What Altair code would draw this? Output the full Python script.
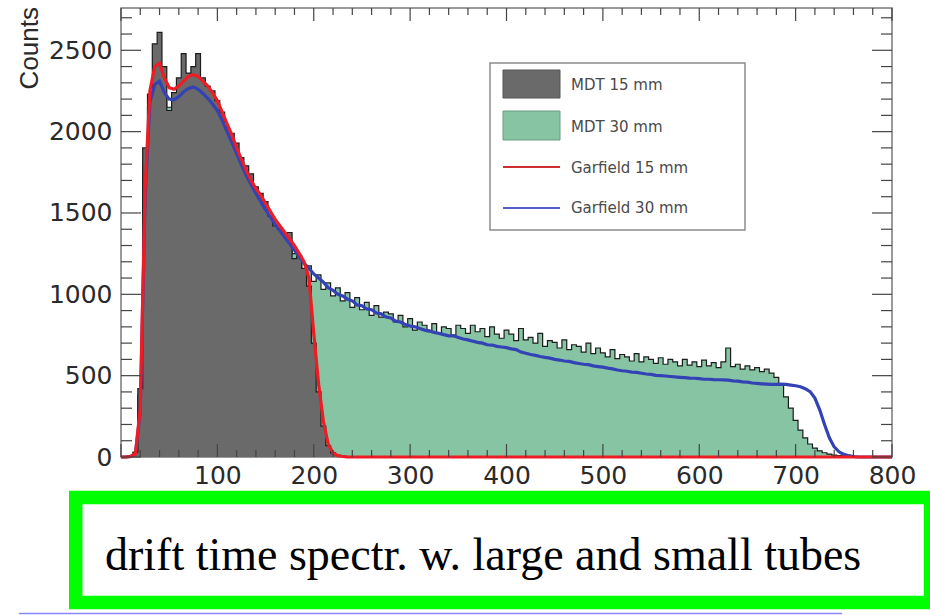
import altair as alt
import pandas as pd

# ---------------- data ----------------
t_mdt15 = list(range(0, 255, 5))
mdt15 = [0, 0, 5, 30, 420, 1900, 2230, 2540, 2610, 2400, 2130, 2240, 2330, 2480, 2360,
         2400, 2480, 2330, 2280, 2250, 2190, 2120, 2030, 1990, 1930, 1840, 1790, 1740,
         1660, 1620, 1570, 1480, 1420, 1400, 1370, 1380, 1220, 1240, 1160, 1050, 700,
         400, 190, 70, 25, 10, 6, 3, 1, 0, 0]

t_mdt30 = list(range(0, 775, 5))
mdt30 = [0, 0, 4, 25, 380, 1800, 2150, 2250, 2300, 2200, 2150, 2150, 2180, 2200, 2230,
         2240, 2230, 2200, 2170, 2140, 2100, 2040, 1970, 1900, 1830, 1760, 1700, 1650,
         1590, 1540, 1490, 1440, 1400, 1360, 1320, 1280, 1250,
         1200, 1150, 1175, 1080, 1120, 1030, 1070, 990, 1040, 960, 1010, 920, 980, 905,
         950, 870, 930, 860, 890, 880, 830, 870, 800, 850, 780, 830, 810, 770, 820, 760,
         800, 790, 750,
         810, 790, 760, 810, 770, 790, 740, 800, 755, 730, 780, 755, 715, 790, 720, 735,
         700, 760, 680, 715, 705, 670, 720, 660, 690, 680, 645, 700, 635, 670,
         640, 615, 660, 605, 630, 615, 590, 635, 585, 615, 600, 575, 610, 570, 600, 585,
         560, 600, 565, 585, 555, 595, 560, 580, 550, 585, 670, 555, 570, 540, 560, 535,
         550, 525, 540, 515, 490,
         440, 370, 300, 225, 165, 118, 80, 55, 38, 26, 18, 12, 8, 5, 3, 1, 0, 0]

t_g15 = list(range(0, 255, 5)) + [800]
g15 = [0, 0, 3, 20, 300, 1650, 2250, 2400, 2420, 2330, 2270, 2260, 2280, 2310, 2340,
       2350, 2340, 2310, 2280, 2240, 2190, 2120, 2050, 1980, 1900, 1830, 1760, 1700,
       1650, 1610, 1560, 1510, 1460, 1420, 1380, 1340, 1300, 1250, 1200, 1100, 760,
       450, 220, 80, 25, 8, 3, 1, 0, 0, 0, 0]

t_g30 = list(range(0, 770, 5)) + [800]
g30 = [0, 0, 3, 20, 280, 1600, 2180, 2290, 2310, 2240, 2200, 2195, 2215, 2245, 2265,
       2275, 2260, 2235, 2205, 2170, 2130, 2070, 2000, 1935, 1865, 1795, 1730, 1675,
       1620, 1570, 1520, 1475, 1430, 1390, 1350, 1310, 1270, 1230, 1190, 1160, 1125,
       1100, 1075, 1040, 1025, 1000, 990, 970, 960, 935, 930, 910, 905, 885, 880, 860,
       855, 835, 830, 815, 805, 800, 790, 780, 775, 765, 760, 752, 745, 745, 735, 725,
       720, 712, 705, 700, 690, 688, 680, 676, 672, 665, 660, 645, 638, 630, 625, 618,
       612, 608, 600, 596, 590, 588, 580, 575, 570, 568, 560, 556, 552, 546, 542, 535,
       530, 527, 522, 520, 515, 510, 508, 502, 500, 498, 495, 492, 490, 488, 485, 484,
       482, 478, 478, 476, 475, 474, 472, 468, 466, 462, 460, 455, 452, 450, 448, 446,
       447, 448, 446, 442, 438, 432, 420, 402, 362, 290, 200, 118, 62, 32, 16, 8, 3, 0,
       0]

legend_labels = ["MDT 15 mm", "MDT 30 mm", "Garfield 15 mm", "Garfield 30 mm"]
y_title = "Counts"
caption = "drift time spectr. w. large and small tubes"

x_labels = [100, 200, 300, 400, 500, 600, 700, 800]
y_labels = [0, 500, 1000, 1500, 2000, 2500]
x_major = [0, 100, 200, 300, 400, 500, 600, 700, 800]
x_minor = [v for v in range(20, 800, 20) if v % 100 != 0]
y_major = [0, 500, 1000, 1500, 2000, 2500]
y_minor = [v for v in range(100, 2800, 100) if v % 500 != 0]

# ---------------- layout ----------------
W, H = 771, 449
PAD_L, PAD_T = 121, 8
xs = alt.Scale(domain=[0, 800], nice=False, zero=False)
ys = alt.Scale(domain=[0, 2760], nice=False, zero=False)

GRAY = "#6a6a6a"
GREEN = "#86c4a4"
RED = "#ee1c24"
BLUE = "#3342b4"
BLACK = "#1c1c1c"
TICK = "#444444"

df15 = pd.DataFrame({"t": t_mdt15, "v": mdt15})
df30 = pd.DataFrame({"t": t_mdt30, "v": mdt30})
dfg15 = pd.DataFrame({"t": t_g15, "v": g15})
dfg30 = pd.DataFrame({"t": t_g30, "v": g30})
one = pd.DataFrame({"d": [0]})

x_axis = alt.Axis(values=x_labels, title=None, ticks=False, tickSize=0, domain=False,
                  grid=False, labelFont="DejaVu Sans", labelFontSize=25, format="d",
                  labelColor="#2a2a2a", labelPadding=6, labelFlush=False,
                  labelOverlap=False)
y_axis = alt.Axis(values=y_labels, title=None, ticks=False, tickSize=0, domain=False,
                  grid=False, labelFont="DejaVu Sans", labelFontSize=25, format="d",
                  labelColor="#2a2a2a", labelPadding=9, labelOverlap=False)


def X(f):
    return alt.X(f, scale=xs, axis=x_axis, title=None)


def Y(f):
    return alt.Y(f, scale=ys, axis=y_axis, title=None)


green_area = alt.Chart(df30).mark_area(interpolate="step", color=GREEN).encode(
    x=X("t:Q"), y=Y("v:Q"))
black30 = alt.Chart(df30).mark_line(interpolate="step", color=BLACK, strokeWidth=1.2).encode(
    x=X("t:Q"), y=Y("v:Q"))
gray_area = alt.Chart(df15).mark_area(interpolate="step", color=GRAY).encode(
    x=X("t:Q"), y=Y("v:Q"))
black15 = alt.Chart(df15).mark_line(interpolate="step", color=BLACK, strokeWidth=1.2).encode(
    x=X("t:Q"), y=Y("v:Q"))
blue_line = alt.Chart(dfg30).mark_line(color=BLUE, strokeWidth=3.2).encode(
    x=X("t:Q"), y=Y("v:Q"))
red_line = alt.Chart(dfg15).mark_line(color=RED, strokeWidth=3.2).encode(
    x=X("t:Q"), y=Y("v:Q"))


def xticks(vals, length, top):
    d = pd.DataFrame({"t": vals})
    y0, y1 = (0, length) if top else (H, H - length)
    return alt.Chart(d).mark_rule(color=TICK, strokeWidth=1.2).encode(
        x=X("t:Q"), y=alt.value(y0), y2=alt.value(y1))


def yticks(vals, length, right):
    d = pd.DataFrame({"v": vals})
    x0, x1 = (W, W - length) if right else (0, length)
    return alt.Chart(d).mark_rule(color=TICK, strokeWidth=1.2).encode(
        y=Y("v:Q"), x=alt.value(x0), x2=alt.value(x1))


tick_layers = [
    xticks(x_major, 13, False), xticks(x_minor, 7, False),
    xticks(x_major, 13, True), xticks(x_minor, 7, True),
    yticks(y_major, 20, False), yticks(y_minor, 11, False),
    yticks(y_major, 20, True), yticks(y_minor, 11, True),
]

# y title
ytitle = alt.Chart(one).mark_text(angle=270, align="right", baseline="middle",
                                  font="Liberation Sans", fontSize=26,
                                  color="#2a2a2a").encode(
    x=alt.value(30 - PAD_L), y=alt.value(7 - PAD_T), text=alt.value(y_title))

# legend
LX0, LX1, LY0, LY1 = 490 - PAD_L, 745 - PAD_L, 63 - PAD_T, 230 - PAD_T
leg_box = alt.Chart(one).mark_rect(fill="white", stroke="#8c8c8c", strokeWidth=1.5).encode(
    x=alt.value(LX0), x2=alt.value(LX1), y=alt.value(LY0), y2=alt.value(LY1))
SW0, SW1 = 503 - PAD_L, 560 - PAD_L
leg_gray = alt.Chart(one).mark_rect(fill=GRAY, stroke="#555555", strokeWidth=1).encode(
    x=alt.value(SW0), x2=alt.value(SW1), y=alt.value(70 - PAD_T), y2=alt.value(98 - PAD_T))
leg_green = alt.Chart(one).mark_rect(fill=GREEN, stroke="#6a9c82", strokeWidth=1).encode(
    x=alt.value(SW0), x2=alt.value(SW1), y=alt.value(111 - PAD_T), y2=alt.value(140 - PAD_T))
leg_red = alt.Chart(one).mark_rule(color="#d03030", strokeWidth=2).encode(
    x=alt.value(SW0), x2=alt.value(SW1), y=alt.value(167 - PAD_T))
leg_blue = alt.Chart(one).mark_rule(color="#5060c8", strokeWidth=2).encode(
    x=alt.value(SW0), x2=alt.value(SW1), y=alt.value(208 - PAD_T))
leg_text_y = [85, 127, 168, 208]
leg_texts = [
    alt.Chart(one).mark_text(align="left", baseline="middle", font="DejaVu Sans",
                             fontSize=15, color="#4a4a4a").encode(
        x=alt.value(571 - PAD_L), y=alt.value(yy - PAD_T), text=alt.value(lab))
    for lab, yy in zip(legend_labels, leg_text_y)
]

# caption box
cap_box = alt.Chart(one).mark_rect(fill="white", stroke="#00ff00", strokeWidth=13.5).encode(
    x=alt.value(75.75 - PAD_L), x2=alt.value(930.5 - PAD_L),
    y=alt.value(497.5 - PAD_T), y2=alt.value(602.5 - PAD_T))
cap_text = alt.Chart(one).mark_text(align="left", baseline="alphabetic",
                                    font="Liberation Serif", fontSize=46,
                                    color="#000000").encode(
    x=alt.value(105 - PAD_L), y=alt.value(570 - PAD_T), text=alt.value(caption))
bottom_line = alt.Chart(one).mark_rule(color="#8888ff", strokeWidth=1.5).encode(
    x=alt.value(19 - PAD_L), x2=alt.value(842 - PAD_L), y=alt.value(613.5 - PAD_T))

chart = alt.layer(
    green_area, black30, gray_area, black15, blue_line, red_line,
    *tick_layers, ytitle, leg_box, leg_gray, leg_green, leg_red, leg_blue, *leg_texts,
    cap_box, cap_text, bottom_line,
).properties(
    width=W, height=H,
    autosize=alt.AutoSizeParams(type="none"),
    padding={"left": PAD_L, "top": PAD_T, "right": 930 - PAD_L - W, "bottom": 615 - PAD_T - H},
    background="white",
).configure_view(stroke="#7a7a7a", strokeWidth=1.5)

chart.save("out.html", embed_options={"renderer": "svg", "actions": False})
